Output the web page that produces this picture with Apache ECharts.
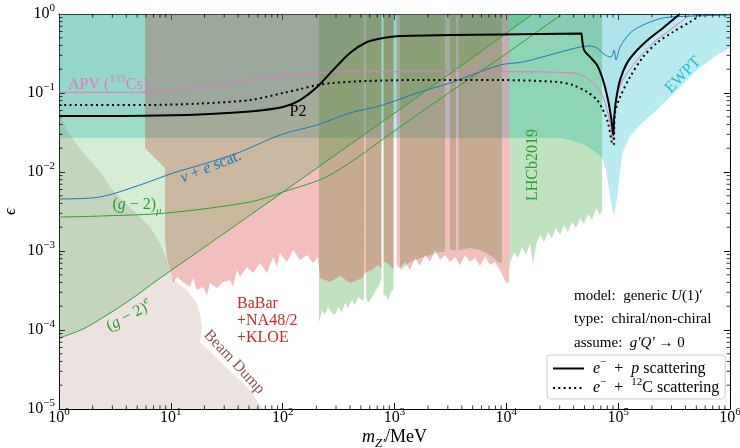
<!DOCTYPE html>
<html><head><meta charset="utf-8">
<script src="https://cdn.jsdelivr.net/npm/echarts@6/dist/echarts.min.js"></script>
<style>html,body{margin:0;padding:0;background:#fff}#c{width:740px;height:448px}</style>
</head><body><div id="c"></div>
<script>
// ---------- data (m_Z' in MeV, epsilon) ----------
const apvLine = [[1,0.102],[5.88,0.102],[18.2,0.119],[51,0.146],[143,0.174],[400,0.186],[8770,0.186],[39500,0.179],[52700,0.155],[64700,0.119],[73200,0.0889],[79400,0.061],[86300,0.0371],[89000,0.0254],[91800,0.0497],[97700,0.0889],[110000,0.146],[148000,0.262],[205000,0.43],[290000,0.627],[439000,0.97],[457000,1]];
const p2Solid = [[1,0.0512],[2.33,0.0512],[5.88,0.0514],[18.2,0.0534],[51,0.0583],[100.7,0.0665],[143,0.0815],[203,0.119],[282,0.195],[400,0.321],[568,0.442],[789,0.497],[1120,0.527],[3134,0.542],[8770,0.55],[47000,0.567],[47500,0.575],[49500,0.35],[56000,0.286],[64700,0.226],[73200,0.146],[81200,0.0815],[86300,0.0497],[89900,0.0312],[90800,0.0294],[91800,0.0455],[95700,0.0815],[104000,0.146],[120000,0.24],[148000,0.35],[193000,0.497],[252000,0.665],[322000,0.89],[357000,1]];
const c12Dotted = [[1,0.0705],[5.88,0.0705],[18.2,0.0736],[51,0.0815],[100.7,0.1],[143,0.112],[203,0.126],[282,0.134],[568,0.142],[1590,0.146],[8770,0.146],[28400,0.138],[39500,0.126],[52700,0.103],[64700,0.0815],[73200,0.061],[81200,0.0417],[88100,0.0233],[91000,0.022],[93800,0.0558],[104000,0.0889],[128000,0.16],[167000,0.286],[222000,0.43],[309000,0.592],[439000,0.792],[562000,1]];
const nuELine = [[1,0.00455],[2.33,0.00483],[5.3,0.00685],[10.5,0.00971],[21.1,0.013],[41.6,0.0179],[94.6,0.0294],[203,0.0394],[400,0.0558],[789,0.0705],[1590,0.1],[3134,0.134],[8770,0.226],[14100,0.247],[28400,0.321],[45600,0.382],[56000,0.394],[64700,0.371],[76300,0.303],[86300,0.286],[91800,0.35],[95700,0.262],[104000,0.382],[128000,0.575],[167000,0.726],[252000,0.89],[439000,0.94],[1e6,0.97]];
const gm2MuLine = [[1,0.00269],[2.33,0.00277],[9.24,0.00303],[51,0.00417],[100.7,0.00558],[265,0.00916],[1120,0.0371],[3134,0.103],[8770,0.277],[31500,1]];
const gm2ELine = [[1,7.9e-5],[1.64,1.03e-4],[2.69,1.55e-4],[4.59,2.55e-4],[7.52,4.25e-4],[18.2,1.02e-3],[100.7,5.58e-3],[265,0.0147],[1690,0.094],[17330,1]];
const beamDumpRegion = [[1,1e-5],[1,0.0646],[1.06,0.0483],[1.18,0.034],[1.45,0.022],[1.78,0.0155],[2.33,0.01],[2.86,0.00646],[3.66,0.00442],[4.59,0.0033],[6.51,0.00201],[8.0,0.00126],[9.24,0.000769],[10.2,0.000455],[12.1,0.000371],[14.0,0.000321],[16.8,0.000226],[18.2,0.000164],[19.0,0.000109],[18.2,7.05e-5],[30.5,3.5e-5],[51,1.74e-5],[66.7,1e-5]];
const babarRegion = [[5.88,1],[5.88,0.0201],[8.87,0.0112],[8.87,0.00138],[9.24,8.15e-4],[9.84,5.74e-4],[10.5,3.94e-4],[11.4,4.69e-4],[12.8,4.05e-4],[14.8,3.5e-4],[15.8,4.55e-4],[17.1,3.21e-4],[19.4,3.5e-4],[21.1,2.77e-4],[22.4,3.94e-4],[25.9,3.4e-4],[29.3,4.05e-4],[33.8,4.3e-4],[36.0,3.5e-4],[39.1,5.74e-4],[41.6,4.69e-4],[48.0,6.27e-4],[54.3,5.27e-4],[62.7,7.05e-4],[72.4,5.27e-4],[82.0,8.4e-4],[89.0,6.27e-4],[94.6,9.4e-4],[109,7.26e-4],[124,1.03e-3],[143,7.7e-4],[165,8.9e-4],[187,7.05e-4],[207,8.4e-4],[216,4.55e-4],[265,4.05e-4],[326,4.83e-4],[400,3.94e-4],[512,4.55e-4],[556,5.42e-4],[630,5.74e-4],[713,6.65e-4],[765,6.1e-4],[765,1],[798,1],[798,7.26e-4],[839,7.26e-4],[951,6.1e-4],[980,6.1e-4],[980,1],[1042,1],[1042,6.65e-4],[1120,6.1e-4],[1242,7.26e-4],[1377,5.74e-4],[1525,8.15e-4],[1692,6.46e-4],[1876,8.9e-4],[2080,7.26e-4],[2303,1.03e-3],[2553,7.7e-4],[2831,8.9e-4],[3134,7.26e-4],[3475,8.4e-4],[3852,6.65e-4],[4272,8.9e-4],[4732,7.26e-4],[5248,8.15e-4],[5818,6.46e-4],[6446,8.6e-4],[7145,6.65e-4],[7925,7.26e-4],[8770,5.74e-4],[9330,4.83e-4],[9930,3.94e-4],[10570,4.05e-4],[10570,1]];
const lhcbRegion = [[211,1],[211,1.23e-4],[225,1.79e-4],[239,1.55e-4],[254,1.95e-4],[276,1.64e-4],[294,1.55e-4],[313,1.95e-4],[339,1.69e-4],[361,2.2e-4],[384,1.9e-4],[417,2.4e-4],[443,2.07e-4],[472,2.62e-4],[512,2.4e-4],[534,2.4e-4],[534,1],[556,1],[556,2.62e-4],[579,2.2e-4],[630,2.62e-4],[670,3.03e-4],[713,3.5e-4],[757,4.3e-4],[765,4.3e-4],[765,1],[798,1],[798,2.77e-4],[823,2.77e-4],[875,2.4e-4],[951,3.21e-4],[980,3.21e-4],[980,1],[1120,1],[1120,5.74e-4],[1377,7.26e-4],[1692,8.15e-4],[2080,8.9e-4],[2553,9.7e-4],[2831,9.7e-4],[2831,1],[3134,1],[3134,1.03e-3],[3475,1.03e-3],[3550,1.03e-3],[3550,1],[3735,1],[3735,1.03e-3],[3852,1.03e-3],[4732,1.09e-3],[5818,1.03e-3],[7145,8.9e-4],[8430,7.26e-4],[8950,7.05e-4],[9140,7.05e-4],[9140,1],[10570,1],[10570,5.74e-4],[10790,7.05e-4],[11720,9.7e-4],[12710,8.15e-4],[13800,1.12e-3],[15000,8.9e-4],[16290,1.26e-3],[17330,6.65e-4],[18430,1.19e-3],[20000,1.6e-3],[21720,1.3e-3],[23590,1.74e-3],[25600,1.46e-3],[27800,1.95e-3],[30200,1.6e-3],[32800,2.13e-3],[35600,1.74e-3],[38660,2.33e-3],[42000,1.95e-3],[45600,2.62e-3],[49500,2.2e-3],[53760,2.94e-3],[58400,2.47e-3],[63400,3.5e-3],[68900,2.86e-3],[71800,3.3e-3],[71800,1]];
const ewptRegion = [[1,0.0269],[30200,0.0269],[37100,0.0254],[50600,0.022],[62100,0.0179],[71800,0.0155],[77800,0.0106],[82800,0.00592],[88100,0.0035],[91800,0.00286],[95700,0.00382],[99700,0.00592],[104000,0.0106],[110000,0.0179],[128000,0.0286],[157000,0.0394],[222000,0.061],[336000,0.109],[507000,0.195],[766000,0.303],[1e6,0.371],[1e6,1],[1,1]];
const topLeftCorner = [[1,1]];
const xRange = [1, 1e6];
const yRange = [1e-5, 1];

// ---------- helpers ----------
const SERIF = "'Liberation Serif','DejaVu Serif',serif";
const COL = {blue:'#1f77b4', green:'#2ca02c', red:'#d62728', brown:'#8c564b', pink:'#e377c2', cyan:'#17becf'};
function R(size, color) {
  const L = Math.round(size * 1.45), sm = Math.round(size * 0.7);
  const b = {fontFamily:SERIF, fontSize:size, color:color, lineHeight:L};
  const s = {fontFamily:SERIF, fontSize:sm, color:color, lineHeight:L};
  return {
    a: Object.assign({}, b),
    i: Object.assign({fontStyle:'italic'}, b),
    s: Object.assign({verticalAlign:'top'}, s),
    si: Object.assign({verticalAlign:'top', fontStyle:'italic'}, s),
    d: Object.assign({verticalAlign:'bottom'}, s),
    di: Object.assign({verticalAlign:'bottom', fontStyle:'italic'}, s)
  };
}
function powLabel(v) {
  const e = Math.round(Math.log10(v));
  return '{a|10}{s|' + (e < 0 ? '\u2212' + (-e) : e) + '}';
}
function region(name, pts, fill, z) {
  return {type:'custom', name:name, coordinateSystem:'cartesian2d', silent:true, z:z, clip:true,
    data:[[xRange[0], yRange[1]]],
    renderItem:function(p, api){
      return {type:'polygon', shape:{points: pts.map(function(q){return api.coord(q);})}, style:{fill:fill}};
    }};
}
function curve(name, pts, color, width, type, z, sm) {
  return {type:'line', name:name, data:pts, symbol:'none', showSymbol:false, smooth:sm,
    silent:true, z:z, itemStyle:{color:color}, lineStyle:{color:color, width:width, type:type, join:'round', cap:'butt'}};
}
const xMinor = [], yMinor = [];
for (let n = 0; n < 6; n++) for (let k = 2; k < 10; k++) xMinor.push(k * Math.pow(10, n));
for (let n = -5; n < 0; n++) for (let k = 2; k < 10; k++) yMinor.push(k * Math.pow(10, n));
function tickSeries(vals, isX) {
  return {type:'custom', coordinateSystem:'cartesian2d', silent:true, clip:false, z:40,
    data: vals.map(function(v){return isX ? [v, yRange[0]] : [xRange[0], v];}),
    renderItem:function(p, api){
      const st = {stroke:'#000', lineWidth:0.8};
      if (isX) {
        const v = api.value(0), b = api.coord([v, yRange[0]]), t = api.coord([v, yRange[1]]);
        return {type:'group', children:[
          {type:'line', shape:{x1:b[0], y1:b[1], x2:b[0], y2:b[1]-3.5}, style:st},
          {type:'line', shape:{x1:t[0], y1:t[1], x2:t[0], y2:t[1]+3.5}, style:st}]};
      }
      const v = api.value(1), l = api.coord([xRange[0], v]), r = api.coord([xRange[1], v]);
      return {type:'group', children:[
        {type:'line', shape:{x1:l[0], y1:l[1], x2:l[0]+3.5, y2:l[1]}, style:st},
        {type:'line', shape:{x1:r[0], y1:r[1], x2:r[0]-3.5, y2:r[1]}, style:st}]};
    }};
}
function axisCommon(extra) {
  return Object.assign({type:'log', logBase:10,
    axisLine:{show:true, onZero:false, lineStyle:{color:'#000', width:1}},
    axisTick:{show:true, inside:true, length:6, lineStyle:{color:'#000', width:1}},
    splitLine:{show:false}, minorTick:{show:false}, minorSplitLine:{show:false}}, extra);
}
function txt(x, y, text, size, color, rot, align) {
  return {type:'text', x:x, y:y, rotation:rot || 0, z:100, silent:true,
    style:{text:text, rich:R(size, color), fill:color, fontFamily:SERIF, fontSize:size, align:align || 'center', verticalAlign:'middle'}};
}

const chart = echarts.init(document.getElementById('c'));
const option = {
  animation:false,
  backgroundColor:'#ffffff',
  grid:{left:59, right:10, top:14, bottom:39, outerBoundsMode:'none'},
  xAxis:[
    axisCommon({min:xRange[0], max:xRange[1], splitNumber:6, position:'bottom',
      axisLabel:{margin:9, verticalAlign:'middle', formatter:powLabel, rich:R(16,'#000')},
      name:'{i|m}{di|Z\u2032}{a|/MeV}', nameLocation:'middle', nameGap:28, nameMoveOverlap:false,
      nameTextStyle:{rich:R(18,'#000'), verticalAlign:'middle'}}),
    axisCommon({min:xRange[0], max:xRange[1], splitNumber:6, position:'top', axisLabel:{show:false}})
  ],
  yAxis:[
    axisCommon({min:yRange[0], max:yRange[1], splitNumber:5, position:'left',
      axisLabel:{margin:4, formatter:powLabel, rich:R(16,'#000')},
      name:'{i|\u03f5}', nameLocation:'middle', nameGap:48, nameRotate:90, nameMoveOverlap:false,
      nameTextStyle:{rich:R(17,'#000'), verticalAlign:'middle'}}),
    axisCommon({min:yRange[0], max:yRange[1], splitNumber:5, position:'right', axisLabel:{show:false}})
  ],
  legend:{
    data:['ep','eC'], orient:'vertical', left:547, top:355, itemWidth:31, itemHeight:12, itemGap:0,
    padding:[2,6,3,5], backgroundColor:'rgba(255,255,255,0.8)', borderColor:'#cccccc', borderWidth:1, borderRadius:3,
    selectedMode:false,
    itemStyle:{color:'rgba(0,0,0,0)', borderWidth:0, opacity:0},
    textStyle:{fontFamily:SERIF, fontSize:16, color:'#000', padding:[0,0,0,4], rich:R(16,'#000')},
    formatter:function(n){ return n === 'ep' ? '{i|e}{s|\u2212}{a|  +  }{i|p}{a| scattering}' : '{i|e}{s|\u2212}{a|  +  }{s|12}{a|C scattering}'; }
  },
  series:[
    region('ewpt', ewptRegion, 'rgba(23,190,207,0.3)', 1),
    region('lhcb', lhcbRegion, 'rgba(44,160,44,0.3)', 2),
    region('babar', babarRegion, 'rgba(214,39,40,0.3)', 3),
    region('bd', beamDumpRegion, 'rgba(140,86,75,0.17)', 4),
    region('g2e', gm2ELine.concat(topLeftCorner), 'rgba(44,160,44,0.2)', 5),
    region('p2', p2Solid.concat(topLeftCorner), 'rgba(31,119,180,0.06)', 6),
    curve('apv', apvLine, COL.pink, 1, 'solid', 10, 0.3),
    curve('nue', nuELine, COL.blue, 1, 'solid', 10, 0.3),
    curve('g2mu', gm2MuLine, COL.green, 1, 'solid', 10, 0.3),
    curve('g2eL', gm2ELine, COL.green, 1, 'solid', 10, 0.3),
    curve('eC', c12Dotted, '#000', 2, [2, 3.3], 11, 0.3),
    curve('ep', p2Solid, '#000', 2, 'solid', 12, 0.3),
    tickSeries(xMinor, true),
    tickSeries(yMinor, false)
  ],
  graphic:[
    txt(68, 85, '{a|APV (}{s|133}{a|Cs)}', 16, COL.pink, 0, 'left'),
    txt(298, 112, '{a|P2}', 16, '#000'),
    txt(211, 167, '{i|\u03bd}{a| + }{i|e}{a| scat.}', 16, COL.blue, 0.38),
    txt(137, 205, '{a|(}{i|g}{a| \u2212 2)}{di|\u03bc}', 16, COL.green),
    txt(129, 316, '{a|(}{i|g}{a| \u2212 2)}{si|e}', 16, COL.green, 0.49),
    txt(533, 165, '{a|LHCb2019}', 16, COL.green, Math.PI/2),
    txt(237, 304, '{a|BaBar}', 16, COL.red, 0, 'left'),
    txt(237, 321, '{a|+NA48/2}', 16, COL.red, 0, 'left'),
    txt(237, 338, '{a|+KLOE}', 16, COL.red, 0, 'left'),
    txt(234, 362, '{a|Beam Dump}', 16, COL.brown, -0.82),
    txt(683, 75, '{a|EWPT}', 16, COL.cyan, 0.8),
    txt(574, 296, '{a|model:  generic }{i|U}{a|(1)\u2032}', 15, '#000', 0, 'left'),
    txt(574, 319, '{a|type:  chiral/non-chiral}', 15, '#000', 0, 'left'),
    txt(574, 343, '{a|assume:  }{i|g\u2032Q\u2032}{a| \u2192 0}', 15, '#000', 0, 'left')
  ]
};
chart.setOption(option);
</script>
</body></html>
